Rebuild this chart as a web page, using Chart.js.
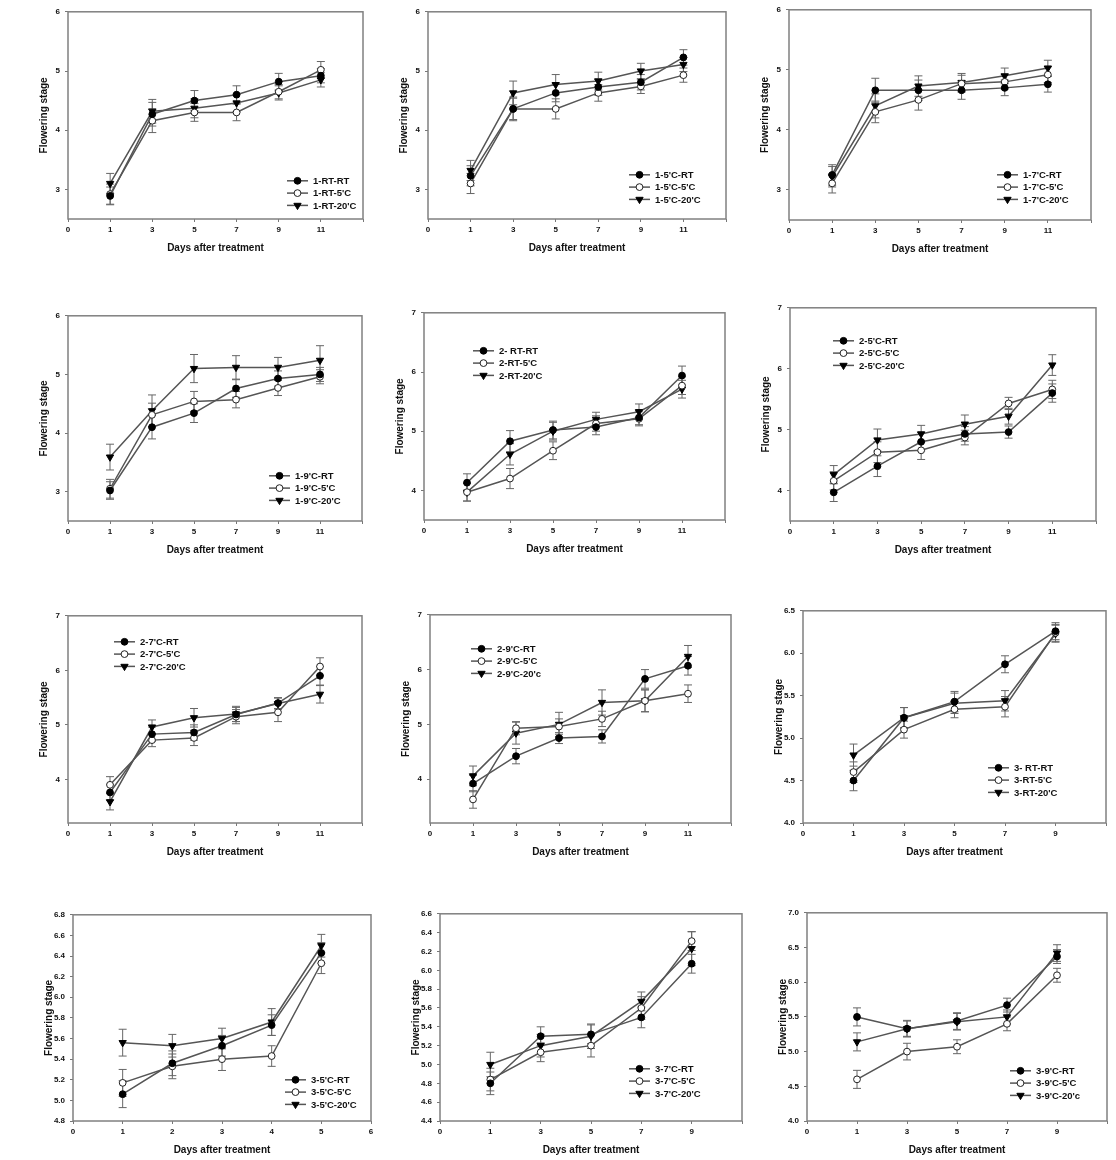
<!DOCTYPE html>
<html>
<head>
<meta charset="utf-8">
<script src="https://cdn.jsdelivr.net/npm/chart.js@4.4.1/dist/chart.umd.min.js"></script>
<style>
  html, body { margin: 0; padding: 0; background: #fff; }
  #wrap { position: relative; width: 1116px; height: 1160px; overflow: hidden; }
  canvas { position: absolute; }
</style>
</head>
<body>
<div id="wrap"></div>
<script>
// x axis labels (equally spaced, like the original figure) and sampling days
const labels11 = ['0', '1', '3', '5', '7', '9', '11', ''];
const days11 = ['1', '3', '5', '7', '9', '11'];
const labels9 = ['0', '1', '3', '5', '7', '9', ''];
const days9 = ['1', '3', '5', '7', '9'];
const labels6 = ['0', '1', '2', '3', '4', '5', '6'];
const days5 = ['1', '2', '3', '4', '5'];

// y tick labels
const yTicks3to6 = [3, 4, 5, 6];
const yTicks4to7 = [4, 5, 6, 7];
const yTicksP9 = [4.0, 4.5, 5.0, 5.5, 6.0, 6.5];
const yTicksP10 = [4.8, 5.0, 5.2, 5.4, 5.6, 5.8, 6.0, 6.2, 6.4, 6.6, 6.8];
const yTicksP11 = [4.4, 4.6, 4.8, 5.0, 5.2, 5.4, 5.6, 5.8, 6.0, 6.2, 6.4, 6.6];
const yTicksP12 = [4.0, 4.5, 5.0, 5.5, 6.0, 6.5, 7.0];

// panel 1
const p1Names = ['1-RT-RT', "1-RT-5'C", "1-RT-20'C"];
const p1RT = [2.89, 4.27, 4.50, 4.60, 4.82, 4.92];
const p1C5 = [2.92, 4.16, 4.30, 4.30, 4.65, 5.02];
const p1C20 = [3.10, 4.32, 4.37, 4.46, 4.63, 4.85];
const p1ErrRT = [0.15, 0.20, 0.17, 0.15, 0.14, 0.12];
const p1ErrC5 = [0.17, 0.20, 0.15, 0.14, 0.12, 0.14];
const p1ErrC20 = [0.17, 0.20, 0.16, 0.15, 0.12, 0.12];

// panel 2
const p2Names = ["1-5'C-RT", "1-5'C-5'C", "1-5'C-20'C"];
const p2RT = [3.23, 4.36, 4.63, 4.73, 4.81, 5.23];
const p2C5 = [3.10, 4.36, 4.36, 4.63, 4.74, 4.93];
const p2C20 = [3.32, 4.63, 4.77, 4.83, 5.00, 5.11];
const p2ErrRT = [0.17, 0.20, 0.15, 0.14, 0.13, 0.13];
const p2ErrC5 = [0.17, 0.18, 0.17, 0.14, 0.12, 0.12];
const p2ErrC20 = [0.17, 0.20, 0.17, 0.15, 0.13, 0.12];

// panel 3
const p3Names = ["1-7'C-RT", "1-7'C-5'C", "1-7'C-20'C"];
const p3RT = [3.25, 4.66, 4.66, 4.66, 4.70, 4.76];
const p3C5 = [3.11, 4.30, 4.50, 4.77, 4.80, 4.92];
const p3C20 = [3.22, 4.40, 4.73, 4.79, 4.90, 5.03];
const p3ErrRT = [0.17, 0.20, 0.17, 0.15, 0.13, 0.13];
const p3ErrC5 = [0.16, 0.18, 0.17, 0.14, 0.12, 0.13];
const p3ErrC20 = [0.17, 0.20, 0.17, 0.15, 0.13, 0.13];

// panel 4
const p4Names = ["1-9'C-RT", "1-9'C-5'C", "1-9'C-20'C"];
const p4RT = [3.02, 4.10, 4.34, 4.76, 4.93, 5.00];
const p4C5 = [3.05, 4.31, 4.54, 4.57, 4.77, 4.96];
const p4C20 = [3.59, 4.38, 5.10, 5.12, 5.12, 5.24];
const p4ErrRT = [0.15, 0.20, 0.16, 0.15, 0.13, 0.12];
const p4ErrC5 = [0.16, 0.20, 0.17, 0.14, 0.13, 0.12];
const p4ErrC20 = [0.22, 0.27, 0.24, 0.20, 0.17, 0.25];

// panel 5
const p5Names = ['2- RT-RT', "2-RT-5'C", "2-RT-20'C"];
const p5RT = [4.13, 4.83, 5.02, 5.07, 5.23, 5.94];
const p5C5 = [3.97, 4.20, 4.67, 5.13, 5.21, 5.77];
const p5C20 = [3.97, 4.61, 5.00, 5.20, 5.33, 5.71];
const p5ErrRT = [0.15, 0.18, 0.15, 0.13, 0.12, 0.16];
const p5ErrC5 = [0.15, 0.17, 0.15, 0.13, 0.12, 0.15];
const p5ErrC20 = [0.15, 0.18, 0.15, 0.12, 0.13, 0.15];

// panel 6
const p6Names = ["2-5'C-RT", "2-5'C-5'C", "2-5'C-20'C"];
const p6RT = [3.97, 4.40, 4.80, 4.93, 4.96, 5.60];
const p6C5 = [4.16, 4.63, 4.66, 4.87, 5.43, 5.66];
const p6C20 = [4.26, 4.83, 4.93, 5.09, 5.22, 6.06];
const p6ErrRT = [0.15, 0.17, 0.15, 0.12, 0.10, 0.15];
const p6ErrC5 = [0.15, 0.17, 0.15, 0.12, 0.10, 0.15];
const p6ErrC20 = [0.15, 0.18, 0.14, 0.15, 0.13, 0.17];

// panel 7
const p7Names = ["2-7'C-RT", "2-7'C-5'C", "2-7'C-20'C"];
const p7RT = [3.76, 4.83, 4.86, 5.19, 5.40, 5.90];
const p7C5 = [3.90, 4.72, 4.76, 5.15, 5.23, 6.07];
const p7C20 = [3.59, 4.96, 5.13, 5.20, 5.39, 5.56];
const p7ErrRT = [0.15, 0.13, 0.14, 0.13, 0.10, 0.17];
const p7ErrC5 = [0.15, 0.12, 0.14, 0.13, 0.17, 0.16];
const p7ErrC20 = [0.15, 0.13, 0.17, 0.14, 0.10, 0.16];

// panel 8
const p8Names = ["2-9'C-RT", "2-9'C-5'C", "2-9'C-20'c"];
const p8RT = [3.92, 4.42, 4.75, 4.78, 5.83, 6.07];
const p8C5 = [3.63, 4.93, 4.96, 5.10, 5.43, 5.56];
const p8C20 = [4.06, 4.84, 5.00, 5.40, 5.43, 6.24];
const p8ErrRT = [0.15, 0.14, 0.10, 0.12, 0.17, 0.17];
const p8ErrC5 = [0.16, 0.12, 0.14, 0.14, 0.20, 0.16];
const p8ErrC20 = [0.18, 0.20, 0.22, 0.23, 0.20, 0.20];

// panel 9
const p9Names = ['3- RT-RT', "3-RT-5'C", "3-RT-20'C"];
const p9RT = [4.50, 5.24, 5.43, 5.87, 6.26];
const p9C5 = [4.60, 5.10, 5.34, 5.37, 6.24];
const p9C20 = [4.80, 5.24, 5.41, 5.44, 6.23];
const p9ErrRT = [0.12, 0.12, 0.12, 0.10, 0.10];
const p9ErrC5 = [0.12, 0.10, 0.10, 0.12, 0.10];
const p9ErrC20 = [0.13, 0.12, 0.12, 0.12, 0.10];

// panel 10
const p10Names = ["3-5'C-RT", "3-5'C-5'C", "3-5'C-20'C"];
const p10RT = [5.06, 5.36, 5.53, 5.73, 6.43];
const p10C5 = [5.17, 5.33, 5.40, 5.43, 6.33];
const p10C20 = [5.56, 5.53, 5.60, 5.76, 6.50];
const p10ErrRT = [0.13, 0.12, 0.10, 0.10, 0.10];
const p10ErrC5 = [0.13, 0.12, 0.11, 0.10, 0.10];
const p10ErrC20 = [0.13, 0.11, 0.10, 0.13, 0.11];

// panel 11
const p11Names = ["3-7'C-RT", "3-7'C-5'C", "3-7'C-20'C"];
const p11RT = [4.80, 5.30, 5.32, 5.50, 6.07];
const p11C5 = [4.84, 5.13, 5.20, 5.60, 6.31];
const p11C20 = [5.00, 5.20, 5.30, 5.67, 6.23];
const p11ErrRT = [0.12, 0.10, 0.10, 0.11, 0.10];
const p11ErrC5 = [0.12, 0.10, 0.12, 0.12, 0.10];
const p11ErrC20 = [0.13, 0.12, 0.13, 0.10, 0.18];

// panel 12
const p12Names = ["3-9'C-RT", "3-9'C-5'C", "3-9'C-20'c"];
const p12RT = [5.50, 5.33, 5.44, 5.67, 6.37];
const p12C5 = [4.60, 5.00, 5.07, 5.40, 6.10];
const p12C20 = [5.14, 5.33, 5.43, 5.50, 6.42];
const p12ErrRT = [0.13, 0.11, 0.12, 0.10, 0.10];
const p12ErrC5 = [0.13, 0.12, 0.10, 0.10, 0.10];
const p12ErrC20 = [0.13, 0.12, 0.12, 0.10, 0.12];

// layout: plot box on the page, y range, legend offset inside the plot box
const panels = [
  { l: 68, t: 10, r: 363, b: 219, labels: labels11, days: days11, yMin: 2.5, yMax: 6, yTicks: yTicks3to6, dec: 0,
    names: p1Names, vals: [p1RT, p1C5, p1C20], errs: [p1ErrRT, p1ErrC5, p1ErrC20], legX: 219, legY: 169 },
  { l: 428, t: 10, r: 726, b: 219, labels: labels11, days: days11, yMin: 2.5, yMax: 6, yTicks: yTicks3to6, dec: 0,
    names: p2Names, vals: [p2RT, p2C5, p2C20], errs: [p2ErrRT, p2ErrC5, p2ErrC20], legX: 201, legY: 163 },
  { l: 789, t: 8, r: 1091, b: 220, labels: labels11, days: days11, yMin: 2.5, yMax: 6, yTicks: yTicks3to6, dec: 0,
    names: p3Names, vals: [p3RT, p3C5, p3C20], errs: [p3ErrRT, p3ErrC5, p3ErrC20], legX: 208, legY: 165 },
  { l: 68, t: 314, r: 362, b: 521, labels: labels11, days: days11, yMin: 2.5, yMax: 6, yTicks: yTicks3to6, dec: 0,
    names: p4Names, vals: [p4RT, p4C5, p4C20], errs: [p4ErrRT, p4ErrC5, p4ErrC20], legX: 201, legY: 160 },
  { l: 424, t: 311, r: 725, b: 520, labels: labels11, days: days11, yMin: 3.5, yMax: 7, yTicks: yTicks4to7, dec: 0,
    names: p5Names, vals: [p5RT, p5C5, p5C20], errs: [p5ErrRT, p5ErrC5, p5ErrC20], legX: 49, legY: 38 },
  { l: 790, t: 306, r: 1096, b: 521, labels: labels11, days: days11, yMin: 3.5, yMax: 7, yTicks: yTicks4to7, dec: 0,
    names: p6Names, vals: [p6RT, p6C5, p6C20], errs: [p6ErrRT, p6ErrC5, p6ErrC20], legX: 43, legY: 33 },
  { l: 68, t: 614, r: 362, b: 823, labels: labels11, days: days11, yMin: 3.2, yMax: 7, yTicks: yTicks4to7, dec: 0,
    names: p7Names, vals: [p7RT, p7C5, p7C20], errs: [p7ErrRT, p7ErrC5, p7ErrC20], legX: 46, legY: 26 },
  { l: 430, t: 613, r: 731, b: 823, labels: labels11, days: days11, yMin: 3.2, yMax: 7, yTicks: yTicks4to7, dec: 0,
    names: p8Names, vals: [p8RT, p8C5, p8C20], errs: [p8ErrRT, p8ErrC5, p8ErrC20], legX: 41, legY: 34 },
  { l: 803, t: 609, r: 1106, b: 823, labels: labels9, days: days9, yMin: 4, yMax: 6.5, yTicks: yTicksP9, dec: 1,
    names: p9Names, vals: [p9RT, p9C5, p9C20], errs: [p9ErrRT, p9ErrC5, p9ErrC20], legX: 185, legY: 157 },
  { l: 73, t: 913, r: 371, b: 1121, labels: labels6, days: days5, yMin: 4.8, yMax: 6.8, yTicks: yTicksP10, dec: 1,
    names: p10Names, vals: [p10RT, p10C5, p10C20], errs: [p10ErrRT, p10ErrC5, p10ErrC20], legX: 212, legY: 165 },
  { l: 440, t: 912, r: 742, b: 1121, labels: labels9, days: days9, yMin: 4.4, yMax: 6.6, yTicks: yTicksP11, dec: 1,
    names: p11Names, vals: [p11RT, p11C5, p11C20], errs: [p11ErrRT, p11ErrC5, p11ErrC20], legX: 189, legY: 155 },
  { l: 807, t: 911, r: 1107, b: 1121, labels: labels9, days: days9, yMin: 4, yMax: 7, yTicks: yTicksP12, dec: 1,
    names: p12Names, vals: [p12RT, p12C5, p12C20], errs: [p12ErrRT, p12ErrC5, p12ErrC20], legX: 203, legY: 158 }
];

const FONT = '"Liberation Sans", Arial, sans-serif';
const LINE = '#555';
const INK = '#111';
const PADL = 60, PADR = 8, PADT = 8, PADB = 38;

// marker look for RT, 5'C, 20'C
const markers = [
  { pointStyle: 'circle', radius: 3.4, rotation: 0, fill: '#000', stroke: '#000' },
  { pointStyle: 'circle', radius: 3.4, rotation: 0, fill: '#fff', stroke: '#222' },
  { pointStyle: 'triangle', radius: 4.2, rotation: 180, fill: '#000', stroke: '#000' }
];

const panelPlugin = {
  id: 'panel',
  // error bars, behind the markers
  beforeDatasetsDraw(chart) {
    const { ctx } = chart;
    const ys = chart.scales.y;
    ctx.save();
    ctx.strokeStyle = '#666';
    ctx.lineWidth = 1;
    chart.data.datasets.forEach((ds, i) => {
      chart.getDatasetMeta(i).data.forEach((pt, j) => {
        const v = ds.data[j].y, e = ds.errs[j];
        const yTop = ys.getPixelForValue(v + e), yBot = ys.getPixelForValue(v - e);
        ctx.beginPath();
        ctx.moveTo(pt.x, yTop); ctx.lineTo(pt.x, yBot);
        ctx.moveTo(pt.x - 4, yTop); ctx.lineTo(pt.x + 4, yTop);
        ctx.moveTo(pt.x - 4, yBot); ctx.lineTo(pt.x + 4, yBot);
        ctx.stroke();
      });
    });
    ctx.restore();
  },
  afterDraw(chart, args, opts) {
    const { ctx, chartArea: a } = chart;
    ctx.save();
    // box around the plot
    ctx.strokeStyle = '#808080';
    ctx.lineWidth = 1.5;
    ctx.strokeRect(a.left, a.top, a.right - a.left, a.bottom - a.top);

    // legend inside the plot
    ctx.font = 'bold 9.5px ' + FONT;
    ctx.textBaseline = 'middle';
    ctx.textAlign = 'left';
    chart.data.datasets.forEach((ds, i) => {
      const x = a.left + opts.legX, y = a.top + opts.legY + i * 12.3;
      ctx.strokeStyle = LINE;
      ctx.lineWidth = 1.5;
      ctx.beginPath(); ctx.moveTo(x, y); ctx.lineTo(x + 21, y); ctx.stroke();
      const m = markers[i];
      ctx.fillStyle = m.fill;
      ctx.strokeStyle = m.stroke;
      ctx.lineWidth = 1;
      Chart.helpers.drawPoint(ctx, { pointStyle: m.pointStyle, radius: m.radius, rotation: m.rotation, borderWidth: 1 }, x + 10.5, y);
      ctx.fillStyle = INK;
      ctx.fillText(ds.label, x + 26, y + 0.5);
    });
    ctx.restore();
  }
};

const wrap = document.getElementById('wrap');

panels.forEach(p => {
  const cv = document.createElement('canvas');
  const cw = p.r - p.l + PADL + PADR, ch = p.b - p.t + PADT + PADB;
  cv.width = cw; cv.height = ch;
  cv.style.left = (p.l - PADL) + 'px';
  cv.style.top = (p.t - PADT) + 'px';
  cv.style.width = cw + 'px';
  cv.style.height = ch + 'px';
  wrap.appendChild(cv);

  const datasets = p.vals.map((vals, i) => ({
    label: p.names[i],
    data: p.days.map((d, j) => ({ x: d, y: vals[j] })),
    errs: p.errs[i],
    borderColor: LINE,
    borderWidth: 1.5,
    pointStyle: markers[i].pointStyle,
    pointRadius: markers[i].radius,
    pointRotation: markers[i].rotation,
    pointBackgroundColor: markers[i].fill,
    pointBorderColor: markers[i].stroke,
    pointBorderWidth: 1,
    tension: 0,
    fill: false
  }));

  new Chart(cv, {
    type: 'line',
    data: { labels: p.labels, datasets },
    plugins: [panelPlugin],
    options: {
      responsive: false,
      animation: false,
      devicePixelRatio: 1,
      layout: { padding: { left: 0, top: PADT, right: PADR, bottom: 0 } },
      plugins: {
        legend: { display: false },
        tooltip: { enabled: false },
        panel: { legX: p.legX, legY: p.legY }
      },
      scales: {
        x: {
          type: 'category',
          offset: false,
          border: { display: false },
          grid: { display: true, drawOnChartArea: false, drawTicks: true, tickLength: 3, color: '#777' },
          ticks: { autoSkip: false, maxRotation: 0, padding: 3, color: INK, font: { family: FONT, size: 8, weight: 'bold' } },
          title: { display: true, text: 'Days after treatment', color: INK, padding: { top: 0, bottom: 3 },
                   font: { family: FONT, size: 10, weight: 'bold' } },
          afterFit: s => { s.height = PADB; }
        },
        y: {
          type: 'linear',
          min: p.yMin,
          max: p.yMax,
          border: { display: false },
          grid: { display: true, drawOnChartArea: false, drawTicks: true, tickLength: 3, color: '#777' },
          ticks: { padding: 5, color: INK, font: { family: FONT, size: 8, weight: 'bold' },
                   callback: v => Number(v).toFixed(p.dec) },
          afterBuildTicks: s => { s.ticks = p.yTicks.map(v => ({ value: v })); },
          title: { display: true, text: 'Flowering stage', color: INK, padding: { top: 30, bottom: 0 },
                   font: { family: FONT, size: 10, weight: 'bold' } },
          afterFit: s => { s.width = PADL; }
        }
      }
    }
  });
});
</script>
</body>
</html>
